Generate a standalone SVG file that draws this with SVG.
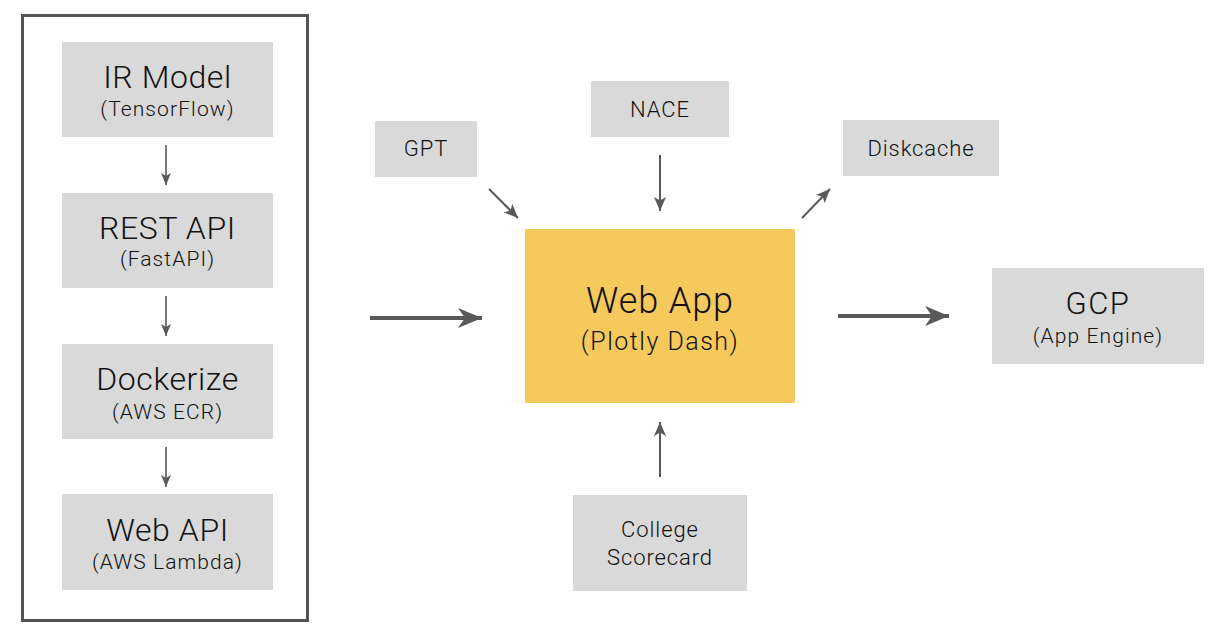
<svg xmlns="http://www.w3.org/2000/svg" width="1226" height="638" viewBox="0 0 1226 638">
<style>
.box{fill:#d9d9d9;}
.main{fill:#f5c95c;}
text{font-family:"Roboto Light",Roboto,"Liberation Sans",sans-serif;font-weight:300;fill:#111111;text-anchor:middle;}
.t32{font-size:32px;letter-spacing:0.6px;}
.t20{font-size:21px;letter-spacing:1.1px;}
.t22{font-size:22px;letter-spacing:0.9px;}
.t36{font-size:36px;letter-spacing:0.9px;}
.t25{font-size:25px;letter-spacing:1.5px;}
.t30{font-size:31px;letter-spacing:1.5px;}
.c{stroke:#595959;fill:none;}
.thin{stroke-width:1.6;marker-end:url(#ah-s);}
.mid{stroke-width:2;marker-end:url(#ah-m);}
.big{stroke-width:4;marker-end:url(#ah-b);}
</style>
<defs>
<marker id="ah-s" markerUnits="userSpaceOnUse" viewBox="0 0 12 10" markerWidth="12" markerHeight="10" refX="12" refY="5" orient="auto"><path d="M0,0 L12,5 L0,10 L3,5 z" fill="#595959"/></marker>
<marker id="ah-m" markerUnits="userSpaceOnUse" viewBox="0 0 14 12" markerWidth="14" markerHeight="12" refX="14" refY="6" orient="auto"><path d="M0,0 L14,6 L0,12 L3.5,6 z" fill="#595959"/></marker>
<marker id="ah-b" markerUnits="userSpaceOnUse" viewBox="0 0 24 20" markerWidth="24" markerHeight="20" refX="24" refY="10" orient="auto"><path d="M0,0 L24,10 L0,20 L7,10 z" fill="#595959"/></marker>
</defs>
<rect x="0" y="0" width="1226" height="638" fill="#ffffff"/>
<g id="pipeline-frame"><rect x="22.5" y="15.5" width="285" height="605" fill="none" stroke="#555555" stroke-width="3"/></g>
<g id="ir-model"><rect class="box" x="62" y="42" width="211" height="95"/><text class="t32" x="167.5" y="88">IR Model</text><text class="t20" x="167.5" y="116">(TensorFlow)</text></g>
<g id="rest-api"><rect class="box" x="62" y="193" width="211" height="95"/><text class="t32" x="167.5" y="239">REST API</text><text class="t20" x="167.5" y="266">(FastAPI)</text></g>
<g id="dockerize"><rect class="box" x="62" y="344" width="211" height="95"/><text class="t32" x="167.5" y="390">Dockerize</text><text class="t20" x="167.5" y="419">(AWS ECR)</text></g>
<g id="web-api"><rect class="box" x="62" y="494" width="211" height="96"/><text class="t32" x="167.5" y="541">Web API</text><text class="t20" x="167.5" y="569">(AWS Lambda)</text></g>
<g id="gpt"><rect class="box" x="375" y="121" width="102" height="56"/><text class="t22" x="426" y="156">GPT</text></g>
<g id="nace"><rect class="box" x="591" y="81" width="138" height="56"/><text class="t22" x="660" y="117">NACE</text></g>
<g id="diskcache"><rect class="box" x="843" y="120" width="156" height="56"/><text class="t22" x="921" y="156">Diskcache</text></g>
<g id="web-app"><rect class="main" x="525" y="229" width="270" height="174"/><text class="t36" x="660" y="313">Web App</text><text class="t25" x="660" y="350">(Plotly Dash)</text></g>
<g id="gcp"><rect class="box" x="992" y="268" width="212" height="96"/><text class="t30" x="1098" y="314">GCP</text><text class="t20" x="1098" y="343">(App Engine)</text></g>
<g id="college-scorecard"><rect class="box" x="573" y="495" width="174" height="96"/><text class="t22" x="660" y="537">College</text><text class="t22" x="660" y="565">Scorecard</text></g>
<g id="connectors">
<line class="c thin" x1="166" y1="145" x2="166" y2="185"/>
<line class="c thin" x1="166" y1="296" x2="166" y2="336"/>
<line class="c thin" x1="166" y1="447" x2="166" y2="487"/>
<line class="c big" x1="370" y1="318" x2="482" y2="318"/>
<line class="c big" x1="838" y1="316" x2="949" y2="316"/>
<line class="c mid" x1="489" y1="189" x2="518" y2="218"/>
<line class="c mid" x1="660" y1="155" x2="660" y2="211"/>
<line class="c mid" x1="802" y1="218" x2="830" y2="189"/>
<line class="c mid" x1="660" y1="477" x2="660" y2="422"/>
</g>
</svg>
